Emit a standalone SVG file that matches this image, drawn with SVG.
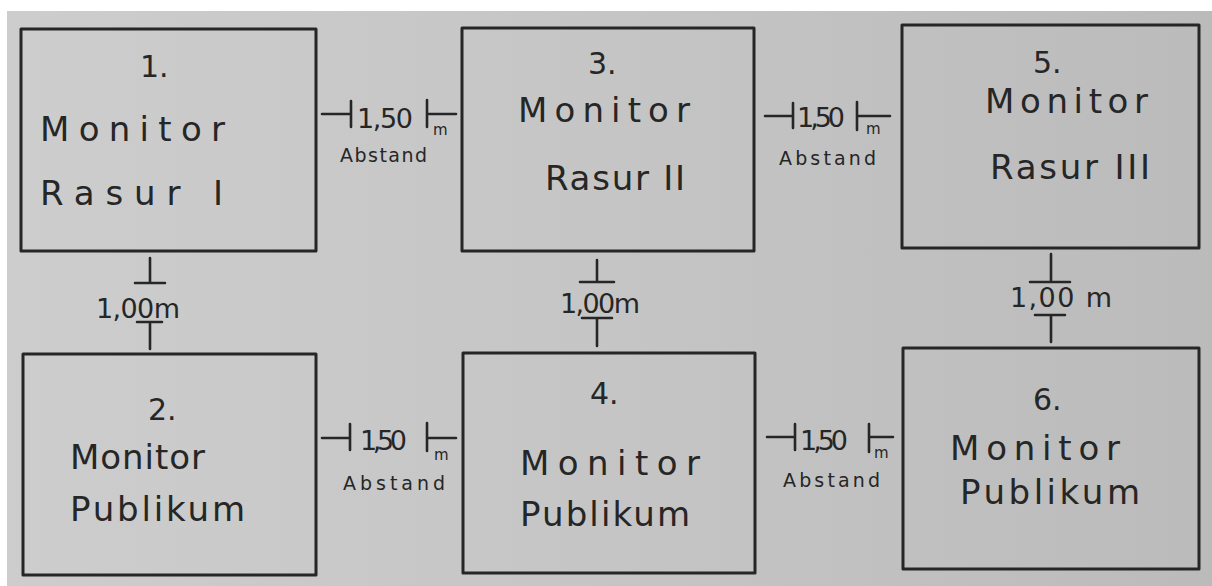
<svg xmlns="http://www.w3.org/2000/svg" width="1212" height="586" viewBox="0 0 1212 586">
<defs>
<linearGradient id="paper" x1="0" y1="0" x2="1" y2="0">
<stop offset="0" stop-color="#cdcdcd"/>
<stop offset="0.5" stop-color="#c5c5c5"/>
<stop offset="1" stop-color="#bbbbbb"/>
</linearGradient>
<style>
.box{fill:none;stroke:#262626;stroke-width:3;stroke-linejoin:round}
.dim{fill:none;stroke:#262626;stroke-width:2.6;stroke-linecap:round}
text{font-family:"DejaVu Sans","Liberation Sans",sans-serif;fill:#262626;font-weight:normal}
.num{font-size:30px}
.big{font-size:34px}
.lbl{font-size:27px}
.sm{font-size:19px}
.m{font-size:15px}
</style>
</defs>
<rect x="0" y="0" width="1212" height="586" fill="#ffffff"/>
<rect x="7" y="11" width="1205" height="575" fill="url(#paper)"/>

<g id="node1">
<rect class="box" x="21" y="29" width="295" height="222"/>
<text class="num" x="140" y="77">1.</text>
<text class="big" x="40" y="141" textLength="185" lengthAdjust="spacing">Monitor</text>
<text class="big" x="40" y="205" textLength="183" lengthAdjust="spacing">Rasur I</text>
</g>
<g id="node2">
<rect class="box" x="23" y="354" width="293" height="221"/>
<text class="num" x="148" y="420">2.</text>
<text class="big" x="70" y="469" textLength="135" lengthAdjust="spacing">Monitor</text>
<text class="big" x="70" y="521" textLength="175" lengthAdjust="spacing">Publikum</text>
</g>
<g id="node3">
<rect class="box" x="462" y="28" width="292" height="223"/>
<text class="num" x="588" y="74">3.</text>
<text class="big" x="518" y="122" textLength="172" lengthAdjust="spacing">Monitor</text>
<text class="big" x="545" y="190" textLength="140" lengthAdjust="spacing">Rasur II</text>
</g>
<g id="node4">
<rect class="box" x="463" y="353" width="292" height="220"/>
<text class="num" x="590" y="404">4.</text>
<text class="big" x="520" y="475" textLength="180" lengthAdjust="spacing">Monitor</text>
<text class="big" x="520" y="526" textLength="170" lengthAdjust="spacing">Publikum</text>
</g>
<g id="node5">
<rect class="box" x="902" y="25" width="297" height="223"/>
<text class="num" x="1033" y="73">5.</text>
<text class="big" x="985" y="113" textLength="163" lengthAdjust="spacing">Monitor</text>
<text class="big" x="990" y="179" textLength="160" lengthAdjust="spacing">Rasur III</text>
</g>
<g id="node6">
<rect class="box" x="903" y="348" width="296" height="221"/>
<text class="num" x="1033" y="410">6.</text>
<text class="big" x="950" y="460" textLength="170" lengthAdjust="spacing">Monitor</text>
<text class="big" x="960" y="504" textLength="180" lengthAdjust="spacing">Publikum</text>
</g>

<g id="connectors">
<path class="dim" d="M322 114H351M351 101V127M427 100V127M427 114H456"/>
<text class="lbl" x="357" y="128" textLength="56" lengthAdjust="spacing">1,50</text>
<text class="m" x="433" y="135">m</text>
<text class="sm" x="340" y="162" textLength="87" lengthAdjust="spacing">Abstand</text>

<path class="dim" d="M765 116H793M793 103V128M857 102V130M857 116H890"/>
<text class="lbl" x="797" y="127" textLength="48" lengthAdjust="spacing">1,50</text>
<text class="m" x="866" y="134">m</text>
<text class="sm" x="779" y="165" textLength="97" lengthAdjust="spacing">Abstand</text>

<path class="dim" d="M322 438H350M350 424V450M427 423V451M427 438H456"/>
<text class="lbl" x="360" y="450" textLength="47" lengthAdjust="spacing">1,50</text>
<text class="m" x="434" y="460">m</text>
<text class="sm" x="343" y="490" textLength="102" lengthAdjust="spacing">Abstand</text>

<path class="dim" d="M767 437H795M795 424V450M869 424V452M869 437H893"/>
<text class="lbl" x="800" y="450" textLength="48" lengthAdjust="spacing">1,50</text>
<text class="m" x="874" y="458">m</text>
<text class="sm" x="783" y="487" textLength="97" lengthAdjust="spacing">Abstand</text>

<path class="dim" d="M150 258V283M135 283H165M137 322H162M150 322V349"/>
<text class="lbl" x="96" y="318" textLength="84" lengthAdjust="spacing">1,00m</text>

<path class="dim" d="M597 260V282M580 282H614M582 318H612M597 318V346"/>
<text class="lbl" x="560" y="313" textLength="80" lengthAdjust="spacing">1,00m</text>

<path class="dim" d="M1051 254V282M1030 282H1070M1035 315H1065M1051 315V342"/>
<text class="lbl" x="1010" y="307" textLength="102" lengthAdjust="spacing">1,00 m</text>
</g>
</svg>
